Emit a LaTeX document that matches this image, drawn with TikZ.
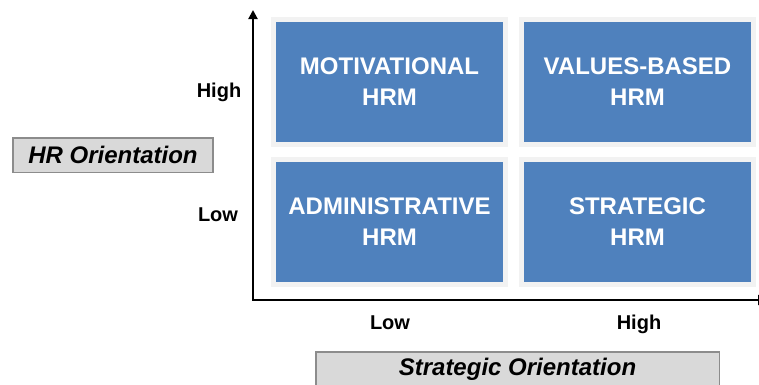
\documentclass[tikz,border=0pt]{standalone}
\usepackage{fontspec}
\setmainfont{Liberation Sans}
\usepackage{xcolor}
\usetikzlibrary{arrows.meta, positioning, shadows}
\definecolor{QuadBlue}{HTML}{4F81BD}
\definecolor{FrameWhite}{HTML}{F2F2F2}
\definecolor{ShadowBlue}{HTML}{95A3B8}
\definecolor{TitleGray}{HTML}{D9D9D9}
\definecolor{EdgeGray}{HTML}{8C8C8C}

\begin{document}
\begin{tikzpicture}[x=1pt,y=-1pt,
    quadrant/.style={fill=QuadBlue,draw=FrameWhite,line width=5pt,
        minimum width=232pt,minimum height=125pt,inner sep=0pt,
        text=white,font=\fontsize{24}{31}\selectfont\bfseries,align=center,
        drop shadow={shadow xshift=2.5pt,shadow yshift=-3pt,fill=ShadowBlue,opacity=1}},
    level/.style={font=\fontsize{20}{24}\selectfont\bfseries,anchor=base},
    axistitle/.style={fill=TitleGray,draw=EdgeGray,line width=1.5pt,inner sep=0pt,
        minimum height=34.5pt,font=\fontsize{24}{29}\selectfont\bfseries\itshape}
]
    \useasboundingbox (0,0) rectangle (759,384);
    \clip (0,0) rectangle (759,384);

    % Four quadrants
    \node[quadrant] (admin) at (389.5,221.5) {ADMINISTRATIVE\\HRM};
    \node[quadrant,above=10pt of admin] (motiv) {MOTIVATIONAL\\HRM};
    \node[quadrant,right=11pt of admin] (strat) {STRATEGIC\\HRM};
    \node[quadrant,above=10pt of strat] (values) {VALUES-BASED\\HRM};

    % Axes
    \coordinate (origin) at (253,300);
    \coordinate (ytip) at (253,10);
    \coordinate (xtip) at (768,300);
    \draw[line width=2pt,{Triangle[length=9pt,width=9pt]}-{Triangle[length=10pt,width=10pt]}]
        (ytip) -- (origin) -- (xtip);

    % Levels
    \node[level] (yhigh) at (219,97) {High};
    \node[level] (ylow) at (218,221) {Low};
    \node[level] (xlow) at (390,329) {Low};
    \node[level] (xhigh) at (639,329) {High};

    % Axis titles
    \node[axistitle,minimum width=200pt] (hrtitle) at (113,155) {HR Orientation};
    \node[axistitle,minimum width=403.5pt] (strattitle) at (517.5,369) {Strategic Orientation};
\end{tikzpicture}
\end{document}
